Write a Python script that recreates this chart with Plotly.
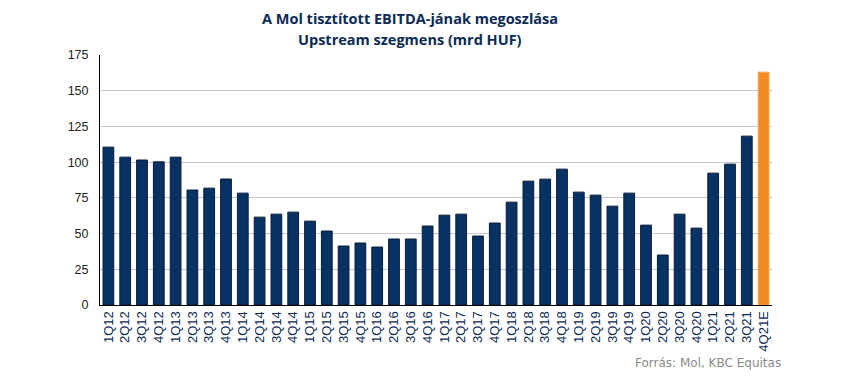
import plotly.graph_objects as go

categories = ["1Q12","2Q12","3Q12","4Q12","1Q13","2Q13","3Q13","4Q13",
              "1Q14","2Q14","3Q14","4Q14","1Q15","2Q15","3Q15","4Q15",
              "1Q16","2Q16","3Q16","4Q16","1Q17","2Q17","3Q17","4Q17",
              "1Q18","2Q18","3Q18","4Q18","1Q19","2Q19","3Q19","4Q19",
              "1Q20","2Q20","3Q20","4Q20","1Q21","2Q21","3Q21","4Q21E"]
values = [110.5, 103.5, 101.5, 100.2, 103.5, 80.5, 81.8, 88.2,
          78.3, 61.5, 63.6, 65.0, 58.7, 51.8, 41.3, 43.4,
          40.6, 46.2, 46.2, 55.3, 62.9, 63.6, 48.3, 57.4,
          72.0, 86.7, 88.1, 95.1, 79.0, 76.9, 69.2, 78.3,
          55.9, 35.0, 63.6, 53.8, 92.3, 98.6, 118.2, 163.0]
title_lines = ["A Mol tisztított EBITDA-jának megoszlása",
               "Upstream szegmens (mrd HUF)"]
source_text = "Forrás: Mol, KBC Equitas"
is_estimate = [c.endswith("E") for c in categories]

fill_colors = ["#F28A26" if e else "#073263" for e in is_estimate]
line_colors = ["#F7A24D" if e else "#0A1C36" for e in is_estimate]

fig = go.Figure(go.Bar(
    x=categories, y=values,
    marker=dict(color=fill_colors, line=dict(color=line_colors, width=1)),
    hoverinfo="x+y",
))

fig.update_layout(
    width=850, height=377,
    margin=dict(l=100, r=78, t=55, b=72),
    paper_bgcolor="white", plot_bgcolor="white",
    bargap=0.36,
    showlegend=False,
    font=dict(family="Liberation Sans, Arial", size=12, color="#222222"),
)

# title lines as annotations (paper coords)
for txt, yp in zip(title_lines, [(305 - 18) / 250, (305 - 40) / 250]):
    fig.add_annotation(
        text="<b>" + txt + "</b>", xref="paper", yref="paper",
        x=(410 - 100) / 672, y=yp, xanchor="center", yanchor="middle",
        showarrow=False, font=dict(family="Open Sans", size=14.5, color="#0B2A55"),
    )

fig.update_xaxes(
    type="category", tickangle=-90,
    tickfont=dict(family="Liberation Sans, Arial", size=13, color="#0B2A55"),
    showline=True, linecolor="#000000", linewidth=1,
    showgrid=False, ticks="", ticklen=0,
)
fig.update_yaxes(
    range=[0, 175], dtick=25, tick0=0,
    showgrid=True, gridcolor="#C8C8C8", gridwidth=1,
    showline=True, linecolor="#000000", linewidth=1,
    zeroline=False, ticks="", ticklabelstandoff=8,
    tickfont=dict(family="Liberation Sans, Arial", size=12.5, color="#222222"),
)

fig.add_annotation(
    text=source_text, xref="paper", yref="paper",
    x=(783 - 100) / 672, y=-(363 - 305) / 250, xanchor="right", yanchor="middle",
    showarrow=False, font=dict(family="DejaVu Sans", size=12, color="#8A8A8A"),
)

fig.write_html("out.html", config={"displayModeBar": False})

with open("out.html", "r", encoding="utf-8") as f:
    html = f.read()
html = html.replace("<head>", "<head><style>html,body{margin:0;padding:0;overflow:hidden;}</style>", 1)
with open("out.html", "w", encoding="utf-8") as f:
    f.write(html)
